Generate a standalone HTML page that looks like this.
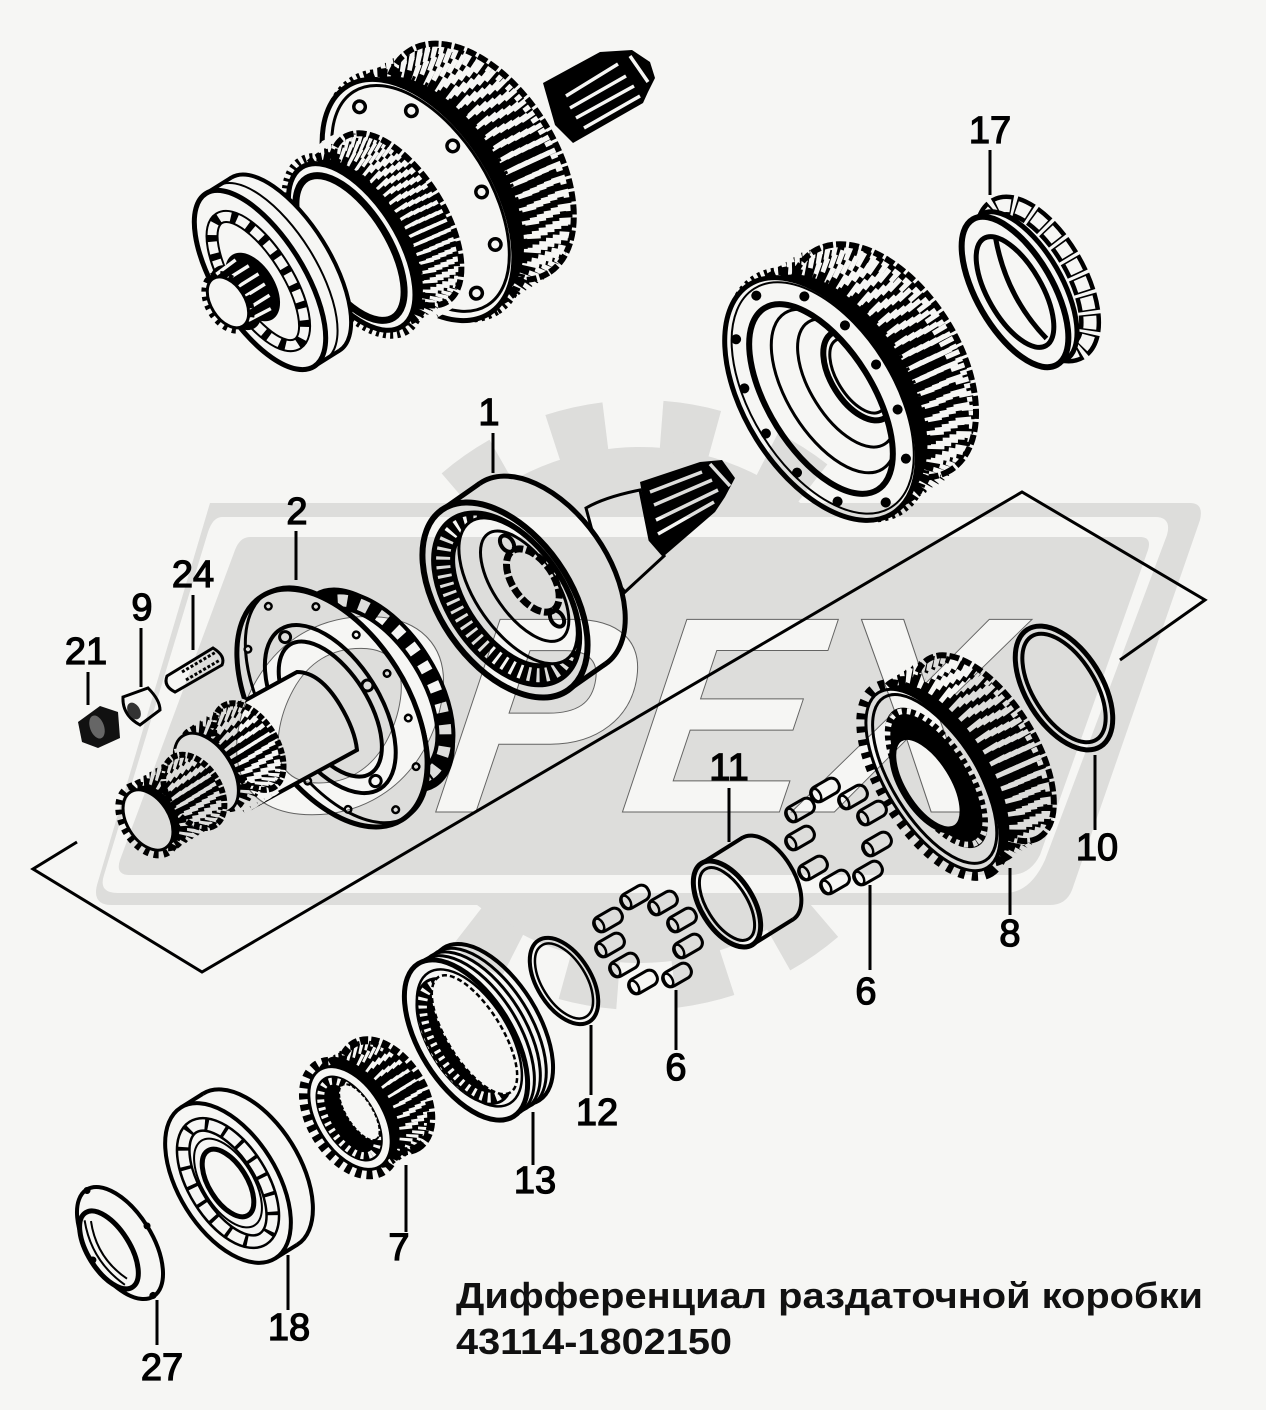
<!DOCTYPE html>
<html><head><meta charset="utf-8"><style>
html,body{margin:0;padding:0;background:#f6f6f4}
svg{display:block}
.p{fill:#f6f6f4;stroke:#000;stroke-width:3}
.n{fill:none;stroke:#000;stroke-width:3}
.k{fill:#000;stroke:#f6f6f4;stroke-width:17;stroke-dasharray:5 9}
.k2{fill:#000;stroke:#f6f6f4;stroke-width:15;stroke-dasharray:3.5 6.5}
.t{fill:none;stroke:#000;stroke-width:9;stroke-dasharray:7 6}
.e{fill:none;stroke:#000;stroke-width:6;stroke-dasharray:10 3}
.f{fill:none;stroke:#000;stroke-width:8;stroke-dasharray:3 4}
.s{stroke:#f6f6f4;stroke-width:3.5;fill:none}
.l{stroke:#000;stroke-width:3;fill:none}
.d{font:38px "Liberation Sans",sans-serif;fill:#000;stroke:#000;stroke-width:1.3;text-anchor:middle}
.b{font:bold 36px "Liberation Sans","Noto Sans CJK SC",sans-serif;fill:#111}
</style></head><body>
<svg width="1266" height="1410" viewBox="0 0 1266 1410" xmlns="http://www.w3.org/2000/svg">
<defs>
<g id="nd"><rect x="-15" y="-8" width="30" height="16" rx="7" fill="#f6f6f4" stroke="#000" stroke-width="3"/><ellipse cx="-10" cy="0" rx="4" ry="7" fill="#f6f6f4" stroke="#000" stroke-width="2.5"/></g>
<clipPath id="cA"><ellipse cx="0" cy="0" rx="107" ry="52"/></clipPath>
</defs>
<rect width="1266" height="1410" fill="#f6f6f4"/>
<!-- bracket -->
<path class="l" d="M1120,660 L1205,600 L1022,492 L202,972 L33,869 L77,842"/>

<!-- TOP ASSEMBLY -->
<path d="M543,83 L600,52 L632,50 L650,62 L655,78 L648,92 L643,103 L573,143 L555,125 Z" fill="#000"/>
<path class="s" d="M566,96 L618,64M570,108 L626,76M576,118 L634,86M584,128 L640,96M630,56 L648,82"/>
<g transform="translate(418,200) rotate(58)">
<ellipse class="k" cx="0" cy="-70" rx="132" ry="76"/>
<ellipse class="k" cx="0" cy="-62" rx="134" ry="76" stroke-dashoffset="1"/>
<ellipse class="k" cx="0" cy="-54" rx="134" ry="76" stroke-dashoffset="2"/>
<ellipse class="k" cx="0" cy="-46" rx="134" ry="76" stroke-dashoffset="3"/>
<ellipse class="k" cx="0" cy="-38" rx="134" ry="76" stroke-dashoffset="4"/>
<ellipse class="k" cx="0" cy="-30" rx="134" ry="76" stroke-dashoffset="5"/>
<ellipse class="k" cx="0" cy="-22" rx="134" ry="76" stroke-dashoffset="6"/>
<ellipse class="e" cx="0" cy="-72" rx="131" ry="76"/>
<ellipse class="f" cx="0" cy="-8" rx="136" ry="80"/>
<ellipse class="p" cx="0" cy="0" rx="134" ry="76" style="stroke-width:5"/>
<ellipse class="n" cx="0" cy="-3" rx="126" ry="69"/>
<ellipse cx="0" cy="0" rx="110" ry="60" fill="none" stroke="#000" stroke-width="15" stroke-linecap="round" pathLength="360" stroke-dasharray="0 36"/>
<ellipse cx="0" cy="0" rx="110" ry="60" fill="none" stroke="#f6f6f4" stroke-width="8" stroke-linecap="round" pathLength="360" stroke-dasharray="0 36"/>
</g>
<g transform="translate(350,248) rotate(58)">
<ellipse class="k2" cx="0" cy="-52" rx="98" ry="48"/>
<ellipse class="k2" cx="0" cy="-45" rx="98" ry="48" stroke-dashoffset="1"/>
<ellipse class="k2" cx="0" cy="-38" rx="98" ry="48" stroke-dashoffset="2"/>
<ellipse class="k2" cx="0" cy="-31" rx="98" ry="48" stroke-dashoffset="3"/>
<ellipse class="k2" cx="0" cy="-24" rx="98" ry="48" stroke-dashoffset="4"/>
<ellipse class="k2" cx="0" cy="-17" rx="98" ry="48" stroke-dashoffset="5"/>
<ellipse class="e" cx="0" cy="-54" rx="97" ry="48"/>
<ellipse class="f" cx="0" cy="-4" rx="100" ry="50"/>
<ellipse class="p" cx="0" cy="-2" rx="94" ry="46" style="stroke-width:5"/>
<ellipse cx="0" cy="0" rx="82" ry="38" fill="none" stroke="#000" stroke-width="7"/>
</g>
<g transform="translate(260,280) rotate(58)">
<ellipse class="p" cx="0" cy="-30" rx="102" ry="44" style="stroke-width:4"/>
<rect x="-102" y="-30" width="204" height="30" fill="#f6f6f4"/>
<path class="n" d="M-102,-30 L-102,0 M102,-30 L102,0" style="stroke-width:4"/>
<ellipse cx="0" cy="-14" rx="102" ry="44" fill="none" stroke="#000" stroke-width="2"/>
<ellipse class="p" cx="0" cy="0" rx="102" ry="44" style="stroke-width:5"/>
<ellipse cx="0" cy="2" rx="74" ry="29" fill="none" stroke="#000" stroke-width="13"/>
<ellipse cx="0" cy="2" rx="74" ry="29" fill="none" stroke="#f6f6f4" stroke-width="9" pathLength="360" stroke-dasharray="13 7"/>
<ellipse fill="#000" cx="2" cy="10" rx="38" ry="22"/>
<ellipse fill="#000" cx="2" cy="30" rx="36" ry="21"/>
<path d="M-30,10 L-28,34 M-18,2 L-18,30 M-6,-2 L-6,26 M6,-2 L6,26 M18,0 L18,28 M30,6 L28,32" stroke="#f6f6f4" stroke-width="3.5" fill="none"/>
<ellipse class="t" cx="2" cy="39" rx="31" ry="20" style="stroke-width:6;stroke-dasharray:4 5"/>
<ellipse class="p" cx="2" cy="39" rx="28" ry="17"/>
</g>

<!-- BIG GEAR -->
<g transform="translate(821,399) rotate(58)">
<ellipse class="k" cx="0" cy="-70" rx="130" ry="76"/>
<ellipse class="k" cx="0" cy="-62" rx="133" ry="76" stroke-dashoffset="1"/>
<ellipse class="k" cx="0" cy="-54" rx="135" ry="76" stroke-dashoffset="2"/>
<ellipse class="k" cx="0" cy="-46" rx="135" ry="76" stroke-dashoffset="3"/>
<ellipse class="k" cx="0" cy="-38" rx="135" ry="76" stroke-dashoffset="4"/>
<ellipse class="k" cx="0" cy="-30" rx="135" ry="76" stroke-dashoffset="5"/>
<ellipse class="k" cx="0" cy="-22" rx="135" ry="76" stroke-dashoffset="6"/>
<ellipse class="e" cx="0" cy="-72" rx="129" ry="76"/>
<ellipse class="f" cx="0" cy="-8" rx="137" ry="80"/>
<ellipse class="p" cx="0" cy="0" rx="135" ry="76" style="stroke-width:5"/>
<ellipse class="n" cx="0" cy="-2" rx="129" ry="71" style="stroke-width:2"/>
<ellipse cx="0" cy="0" rx="107" ry="52" fill="none" stroke="#000" stroke-width="6"/>
<g clip-path="url(#cA)">
<ellipse class="n" cx="0" cy="-15" rx="92" ry="46"/>
<ellipse class="n" cx="0" cy="-30" rx="72" ry="36"/>
<ellipse cx="0" cy="-44" rx="50" ry="27" fill="none" stroke="#000" stroke-width="6"/>
<ellipse class="n" cx="0" cy="-44" rx="42" ry="21"/>
</g>
<ellipse cx="0" cy="0" rx="122" ry="65" fill="none" stroke="#000" stroke-width="10" stroke-linecap="round" pathLength="360" stroke-dasharray="0 30"/>
</g>

<!-- GEAR 17 -->
<g transform="translate(1015,292) rotate(60)">
<ellipse cx="0" cy="-26" rx="82" ry="38" fill="none" stroke="#000" stroke-width="22" pathLength="360" stroke-dasharray="15 3"/>
<ellipse cx="0" cy="-26" rx="82" ry="38" fill="none" stroke="#f6f6f4" stroke-width="13" pathLength="360" stroke-dasharray="12 6" stroke-dashoffset="-1.5"/>
<ellipse class="p" cx="0" cy="-10" rx="84" ry="38" style="stroke-width:5"/>
<ellipse class="p" cx="0" cy="0" rx="84" ry="38" style="stroke-width:6"/>
<ellipse cx="0" cy="0" rx="62" ry="27" fill="#f6f6f4" stroke="#000" stroke-width="5"/>
<path class="n" d="M-56,-10 Q0,10 56,-4" style="stroke-width:5"/>
</g>

<!-- PART 1 -->
<path d="M640,482 L700,462 L722,460 L735,478 L725,497 L715,512 L664,556 L650,540 Z" fill="#000"/>
<path class="s" d="M650,492 L702,472M654,505 L712,480M656,520 L718,490M658,534 L714,502M710,464 L730,486"/>
<path class="p" d="M586,508 Q605,497 640,490 L650,540 L664,556 L625,592 L600,560 Z"/>
<g transform="translate(505,600) rotate(55)">
<ellipse class="p" cx="0" cy="-46" rx="110" ry="65" style="stroke-width:5"/>
<path d="M-110,-46 L-110,0 L110,0 L110,-46 Z" fill="#f6f6f4"/>
<path class="n" d="M-110,-46 L-110,0 M110,-46 L110,0" style="stroke-width:5"/>
<ellipse class="p" cx="0" cy="0" rx="110" ry="65" style="stroke-width:6"/>
<ellipse cx="0" cy="-2" rx="87" ry="48" fill="none" stroke="#000" stroke-width="24"/>
<ellipse cx="0" cy="-2" rx="87" ry="48" fill="none" stroke="#f6f6f4" stroke-width="14" pathLength="360" stroke-dasharray="2.5 5"/>
<ellipse class="p" cx="0" cy="-16" rx="84" ry="42"/>
<ellipse class="n" cx="0" cy="-24" rx="64" ry="30"/>
<ellipse cx="0" cy="-34" rx="36" ry="20" fill="#f6f6f4" stroke="#000" stroke-width="7" stroke-dasharray="10 3"/>
<ellipse cx="-45" cy="-34" rx="9" ry="6" fill="none" stroke="#000" stroke-width="4"/>
<ellipse cx="45" cy="-32" rx="9" ry="6" fill="none" stroke="#000" stroke-width="4"/>
</g>

<!-- PART 2 -->
<g transform="translate(372,692) rotate(58)">
<ellipse class="p" cx="0" cy="-4" rx="112" ry="58" style="stroke-width:5"/>
<ellipse cx="0" cy="-4" rx="100" ry="54" fill="none" stroke="#000" stroke-width="20"/>
<ellipse cx="0" cy="-4" rx="100" ry="54" fill="none" stroke="#f6f6f4" stroke-width="12" pathLength="360" stroke-dasharray="7 9"/>
</g>
<g transform="translate(332,708) rotate(58)">
<ellipse class="p" cx="0" cy="0" rx="132" ry="76" style="stroke-width:5"/>
<ellipse class="n" cx="0" cy="-6" rx="132" ry="70"/>
<ellipse cx="0" cy="0" rx="120" ry="65" fill="none" stroke="#000" stroke-width="9" stroke-linecap="round" pathLength="360" stroke-dasharray="0 30"/>
<ellipse cx="0" cy="0" rx="120" ry="65" fill="none" stroke="#f6f6f4" stroke-width="4" stroke-linecap="round" pathLength="360" stroke-dasharray="0 30"/>
<ellipse class="n" cx="0" cy="2" rx="94" ry="50" style="stroke-width:4"/>
<ellipse class="n" cx="0" cy="2" rx="76" ry="38" style="stroke-width:4"/>
<ellipse cx="0" cy="2" rx="85" ry="44" fill="none" stroke="#000" stroke-width="14" stroke-linecap="round" pathLength="360" stroke-dasharray="0 90"/>
<ellipse cx="0" cy="2" rx="85" ry="44" fill="none" stroke="#f6f6f4" stroke-width="8" stroke-linecap="round" pathLength="360" stroke-dasharray="0 90"/>
</g>
<path class="p" d="M235,706 L297,672 Q320,672 340,705 Q355,730 357,750 L240,814 Z" style="stroke-width:4"/>
<g transform="translate(208,772) rotate(58)">
<ellipse class="k2" cx="0" cy="-46" rx="48" ry="28"/>
<ellipse class="k2" cx="0" cy="-38" rx="48" ry="28"/>
<ellipse class="k2" cx="0" cy="-30" rx="48" ry="28"/>
<ellipse class="k2" cx="0" cy="-22" rx="48" ry="28"/>
<ellipse class="k2" cx="0" cy="-14" rx="48" ry="28"/>
<ellipse class="k2" cx="0" cy="-6" rx="48" ry="28"/>
<ellipse class="e" cx="0" cy="-48" rx="48" ry="28" style="stroke-dasharray:6 2"/>
<ellipse class="p" cx="0" cy="2" rx="44" ry="26"/>
</g>
<g transform="translate(148,820) rotate(58)">
<ellipse class="k2" cx="0" cy="-52" rx="40" ry="26"/>
<ellipse class="k2" cx="0" cy="-45" rx="40" ry="26"/>
<ellipse class="k2" cx="0" cy="-38" rx="40" ry="26"/>
<ellipse class="k2" cx="0" cy="-31" rx="40" ry="26"/>
<ellipse class="k2" cx="0" cy="-24" rx="40" ry="26"/>
<ellipse class="k2" cx="0" cy="-17" rx="40" ry="26"/>
<ellipse class="k2" cx="0" cy="-10" rx="40" ry="26"/>
<ellipse class="e" cx="0" cy="-54" rx="40" ry="26" style="stroke-dasharray:6 2"/>
<ellipse class="t" cx="0" cy="0" rx="38" ry="25" style="stroke-width:7;stroke-dasharray:5 5"/>
<ellipse class="p" cx="0" cy="0" rx="33" ry="21"/>
</g>

<!-- small parts -->
<path d="M78,722 L100,706 L118,712 L120,738 L98,748 L82,742 Z" fill="#111"/>
<ellipse cx="97" cy="727" rx="7" ry="12" transform="rotate(-20 97 727)" fill="#666"/>
<path class="p" d="M123,697 L148,688 Q160,700 160,710 L140,725 Q122,715 123,697 Z"/>
<ellipse cx="134" cy="711" rx="6" ry="9" transform="rotate(-30 134 711)" fill="#333"/>
<path class="p" d="M167,676 L213,648 Q226,656 222,665 L175,692 Q163,686 167,676 Z"/>
<path d="M182,672 L216,652M186,680 L220,660" stroke="#000" stroke-width="3" stroke-dasharray="3 2" fill="none"/>

<!-- GEAR 8 -->
<g transform="translate(933,780) rotate(58)">
<ellipse class="k" cx="0" cy="-58" rx="106" ry="50"/>
<ellipse class="k" cx="0" cy="-51" rx="108" ry="50" stroke-dashoffset="1"/>
<ellipse class="k" cx="0" cy="-44" rx="108" ry="50" stroke-dashoffset="2"/>
<ellipse class="k" cx="0" cy="-37" rx="108" ry="50" stroke-dashoffset="3"/>
<ellipse class="k" cx="0" cy="-30" rx="108" ry="50" stroke-dashoffset="4"/>
<ellipse class="k" cx="0" cy="-23" rx="108" ry="50" stroke-dashoffset="5"/>
<ellipse class="k" cx="0" cy="-16" rx="108" ry="50" stroke-dashoffset="6"/>
<ellipse class="e" cx="0" cy="-60" rx="105" ry="50"/>
<ellipse class="t" cx="0" cy="0" rx="108" ry="50" style="stroke-width:11;stroke-dasharray:6 7"/>
<ellipse class="p" cx="0" cy="0" rx="103" ry="46" style="stroke-width:3"/>
<ellipse class="n" cx="0" cy="-2" rx="96" ry="42"/>
<ellipse cx="0" cy="-4" rx="82" ry="37" fill="#000" stroke="#f6f6f4" stroke-width="4"/>
<ellipse cx="0" cy="-4" rx="76" ry="33" fill="none" stroke="#f6f6f4" stroke-width="6" stroke-dasharray="4 5"/>
<ellipse cx="0" cy="6" rx="53" ry="25" fill="#f6f6f4" stroke="#000" stroke-width="7"/>
</g>

<!-- RING 10 -->
<g transform="translate(1064,688) rotate(58)">
<ellipse cx="0" cy="0" rx="69" ry="38" fill="#f6f6f4" stroke="#000" stroke-width="5"/>
<ellipse class="n" cx="0" cy="0" rx="61" ry="31" style="stroke-width:4"/>
</g>

<!-- BUSHING 11 -->
<g transform="translate(727,904) rotate(58)">
<ellipse class="p" cx="0" cy="-48" rx="48" ry="26" style="stroke-width:4"/>
<rect x="-48" y="-48" width="96" height="48" fill="#f6f6f4"/>
<path class="n" d="M-48,-48 L-48,0 M48,-48 L48,0" style="stroke-width:4"/>
<ellipse class="p" cx="0" cy="0" rx="48" ry="26" style="stroke-width:5"/>
<ellipse class="n" cx="0" cy="0" rx="41" ry="20"/>
</g>

<!-- NEEDLES -->
<use href="#nd" transform="translate(800,810) rotate(-30)"/>
<use href="#nd" transform="translate(825,790) rotate(-30)"/>
<use href="#nd" transform="translate(853,797) rotate(-30)"/>
<use href="#nd" transform="translate(872,813) rotate(-30)"/>
<use href="#nd" transform="translate(877,844) rotate(-30)"/>
<use href="#nd" transform="translate(868,873) rotate(-30)"/>
<use href="#nd" transform="translate(835,882) rotate(-30)"/>
<use href="#nd" transform="translate(813,868) rotate(-30)"/>
<use href="#nd" transform="translate(800,838) rotate(-30)"/>
<use href="#nd" transform="translate(608,920) rotate(-30)"/>
<use href="#nd" transform="translate(635,897) rotate(-30)"/>
<use href="#nd" transform="translate(663,903) rotate(-30)"/>
<use href="#nd" transform="translate(682,920) rotate(-30)"/>
<use href="#nd" transform="translate(688,946) rotate(-30)"/>
<use href="#nd" transform="translate(677,975) rotate(-30)"/>
<use href="#nd" transform="translate(643,982) rotate(-30)"/>
<use href="#nd" transform="translate(624,965) rotate(-30)"/>
<use href="#nd" transform="translate(610,945) rotate(-30)"/>

<!-- RING 12 -->
<g transform="translate(564,981) rotate(58)">
<ellipse cx="0" cy="0" rx="48" ry="27" fill="#f6f6f4" stroke="#000" stroke-width="4"/>
<ellipse class="n" cx="0" cy="0" rx="42" ry="22" style="stroke-width:2.5"/>
</g>

<!-- RING 13 -->
<g transform="translate(466,1040) rotate(58)">
<ellipse class="p" cx="0" cy="-30" rx="90" ry="46" style="stroke-width:4"/>
<rect x="-90" y="-30" width="180" height="30" fill="#f6f6f4"/>
<ellipse class="n" cx="0" cy="-22" rx="90" ry="46"/>
<ellipse class="n" cx="0" cy="-15" rx="90" ry="46"/>
<ellipse class="n" cx="0" cy="-8" rx="90" ry="46"/>
<ellipse class="p" cx="0" cy="0" rx="90" ry="46" style="stroke-width:5"/>
<ellipse cx="0" cy="2" rx="72" ry="36" fill="#000"/>
<ellipse cx="0" cy="2" rx="64" ry="30" fill="none" stroke="#f6f6f4" stroke-width="10" stroke-dasharray="3 5"/>
<ellipse cx="0" cy="-10" rx="68" ry="27" fill="#f6f6f4" stroke="#000" stroke-width="2.5" stroke-dasharray="5 3"/>
<ellipse class="n" cx="0" cy="-4" rx="77" ry="39" style="stroke-width:2.5"/>
</g>

<!-- GEAR 7 -->
<g transform="translate(350,1118) rotate(58)">
<ellipse class="k2" cx="0" cy="-40" rx="62" ry="38" style="stroke-width:13;stroke-dasharray:3 9"/>
<ellipse class="k2" cx="0" cy="-33" rx="62" ry="38" style="stroke-width:13;stroke-dasharray:3 9"/>
<ellipse class="k2" cx="0" cy="-26" rx="62" ry="38" style="stroke-width:13;stroke-dasharray:3 9"/>
<ellipse class="k2" cx="0" cy="-19" rx="62" ry="38" style="stroke-width:13;stroke-dasharray:3 9"/>
<ellipse class="k2" cx="0" cy="-12" rx="62" ry="38" style="stroke-width:13;stroke-dasharray:3 9"/>
<ellipse class="t" cx="0" cy="-42" rx="61" ry="38" style="stroke-width:8;stroke-dasharray:8 3"/>
<ellipse class="t" cx="0" cy="0" rx="62" ry="38" style="stroke-width:10;stroke-dasharray:6 5"/>
<ellipse class="p" cx="0" cy="0" rx="57" ry="33"/>
<ellipse cx="0" cy="1" rx="48" ry="26" fill="#000"/>
<ellipse cx="0" cy="1" rx="42" ry="21" fill="none" stroke="#f6f6f4" stroke-width="7" stroke-dasharray="3 5"/>
<ellipse cx="0" cy="-11" rx="32" ry="13" fill="#f6f6f4" stroke="#000" stroke-width="2" stroke-dasharray="4 2"/>
</g>

<!-- BEARING 18 -->
<g transform="translate(228,1183) rotate(58)">
<ellipse class="p" cx="0" cy="-26" rx="89" ry="49" style="stroke-width:4"/>
<rect x="-89" y="-26" width="178" height="26" fill="#f6f6f4"/>
<path class="n" d="M-89,-26 L-89,0 M89,-26 L89,0" style="stroke-width:4"/>
<ellipse class="p" cx="0" cy="0" rx="89" ry="49" style="stroke-width:4"/>
<ellipse cx="0" cy="0" rx="66" ry="33" fill="none" stroke="#000" stroke-width="15"/>
<ellipse cx="0" cy="0" rx="66" ry="33" fill="none" stroke="#f6f6f4" stroke-width="10" pathLength="360" stroke-dasharray="18 4"/>
<ellipse cx="0" cy="0" rx="38" ry="19" fill="#f6f6f4" stroke="#000" stroke-width="5"/>
<ellipse class="n" cx="0" cy="0" rx="50" ry="25" style="stroke-width:2"/>
</g>

<!-- NUT 27 -->
<g transform="translate(120,1243) rotate(58)">
<ellipse class="p" cx="0" cy="0" rx="63" ry="32" style="stroke-width:4"/>
<ellipse cx="0" cy="13" rx="44" ry="21" fill="#f6f6f4" stroke="#000" stroke-width="5"/>
<path class="n" d="M-38,18 Q0,34 38,18M-34,13 Q0,28 34,13" style="stroke-width:2"/>
<ellipse cx="0" cy="0" rx="62" ry="32" fill="none" stroke="#000" stroke-width="7" stroke-linecap="round" pathLength="360" stroke-dasharray="0 90"/>
</g>

<!-- leaders -->
<path class="l" d="M990,150 V195 M493,433 V473 M296,531 V580 M193,595 V650 M141,628 V687 M88,672 V705 M729,788 V842 M1095,755 V830 M1010,868 V915 M870,885 V970 M676,990 V1050 M591,1025 V1095 M533,1112 V1165 M406,1165 V1232 M288,1255 V1310 M157,1300 V1345"/>
<text class="d" x="990" y="143">17</text>
<text class="d" x="489" y="425">1</text>
<text class="d" x="297" y="524">2</text>
<text class="d" x="193" y="587">24</text>
<text class="d" x="142" y="620">9</text>
<text class="d" x="86" y="664">21</text>
<text class="d" x="729" y="780">11</text>
<text class="d" x="1097" y="860">10</text>
<text class="d" x="1010" y="946">8</text>
<text class="d" x="866" y="1004">6</text>
<text class="d" x="676" y="1080">6</text>
<text class="d" x="597" y="1125">12</text>
<text class="d" x="535" y="1193">13</text>
<text class="d" x="399" y="1260">7</text>
<text class="d" x="289" y="1340">18</text>
<text class="d" x="162" y="1380">27</text>
<text class="b" x="456" y="1308" textLength="747" lengthAdjust="spacingAndGlyphs">Дифференциал раздаточной коробки</text>
<text class="b" x="456" y="1354" textLength="276" lengthAdjust="spacingAndGlyphs">43114-1802150</text>

<!-- watermark multiplied over the drawing -->
<g style="mix-blend-mode:multiply">
<circle cx="640" cy="705" r="258" fill="#e5e5e5"/>
<circle cx="640" cy="705" r="280" fill="none" stroke="#e5e5e5" stroke-width="50" pathLength="360" stroke-dasharray="11 11.5" stroke-dashoffset="-4.5"/>
<path d="M210,503 H1190 Q1204,503 1200,520 L1072,890 Q1066,905 1050,905 H112 Q92,905 97,885 Z" fill="#e5e5e5"/>
<path d="M222,517 H1155 Q1172,517 1167,535 L1045,860 Q1030,893 1005,893 H118 Q98,893 104,875 L208,532 Q213,517 222,517 Z" fill="#fff"/>
<path d="M250,537 H1140 Q1152,537 1148,550 L1040,855 Q1030,875 1010,875 H130 Q115,875 120,860 L235,550 Q240,537 250,537 Z" fill="#e5e5e5"/>
<text transform="translate(213,812) skewX(-8)" x="0" y="0" font-family="Liberation Sans" font-weight="bold" font-style="italic" font-size="280" fill="#fff" stroke="#666" stroke-width="1">OPEX</text>
</g>
</svg>
</body></html>
